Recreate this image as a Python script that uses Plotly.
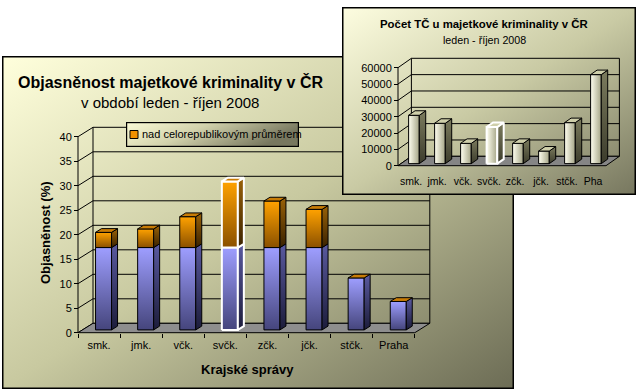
import base64
import plotly.graph_objects as go

W, H = 641, 392
FONT = "Arial, 'Liberation Sans', sans-serif"

# ---- main chart: clearance rate (%) by regional police directorate ----
regions = ["smk.", "jmk.", "včk.", "svčk.", "zčk.", "jčk.", "stčk.", "Praha"]
up_to_avg = [16.8, 16.8, 16.8, 16.8, 16.8, 16.8, 10.6, 5.8]
above_avg = [3.1, 3.8, 6.3, 13.5, 9.5, 7.8, 0.0, 0.0]
main_ticks = [0, 5, 10, 15, 20, 25, 30, 35, 40]

# ---- inset: number of property crimes ----
inset_regions = ["smk.", "jmk.", "včk.", "svčk.", "zčk.", "jčk.", "stčk.", "Pha"]
crimes = [29600, 24700, 12400, 22400, 12400, 7700, 25100, 54500]
inset_ticks = [0, 10000, 20000, 30000, 40000, 50000, 60000]

highlight = 3  # svčk. is drawn with a white outline in both charts


def frame(box, origin, cat_px, unit_px):
    # domain = panel box, ranges chosen so the front axes land on origin
    x0, y0, x1, y1 = box
    ox, oy = origin
    xd = [x0 / W, x1 / W]
    yd = [1 - y1 / H, 1 - y0 / H]
    xr = [-0.5 + (x0 - ox) / cat_px, -0.5 + (x1 - ox) / cat_px]
    yr = [(oy - y1) / unit_px, (oy - y0) / unit_px]
    return xd, xr, yd, yr


def panel_svg(w, h, stops, x2=1, y2=1, border=1.5):
    st = "".join(f'<stop offset="{o}" stop-color="{c}"/>' for o, c in stops)
    s = (f'<svg xmlns="http://www.w3.org/2000/svg" width="{w}" height="{h}" '
         f'viewBox="0 0 {w} {h}" preserveAspectRatio="none"><defs>'
         f'<linearGradient id="g" x1="0" y1="0" x2="{x2}" y2="{y2}">{st}</linearGradient></defs>'
         f'<rect x="{border/2}" y="{border/2}" width="{w-border}" height="{h-border}" '
         f'fill="url(#g)" stroke="black" stroke-width="{border}"/></svg>')
    return "data:image/svg+xml;base64," + base64.b64encode(s.encode()).decode()


traces = []


def poly(xs, ys, ax, fill=None, grad=None, line="black", lw=1):
    t = go.Scatter(x=xs + [xs[0]], y=ys + [ys[0]], mode="lines", fill="toself",
                   line=dict(color=line, width=lw), xaxis="x" + ax, yaxis="y" + ax,
                   hoverinfo="skip", showlegend=False)
    if grad:
        t.fillgradient = dict(type=grad[0], colorscale=[[0, grad[1]], [1, grad[2]]])
    else:
        t.fillcolor = fill
    traces.append(t)


def walls(ax, ticks, ncat, dx, dy, floor):
    xl, xr = -0.5, ncat - 0.5
    top = ticks[-1]
    gx, gy = [], []
    for t in ticks:
        gx += [xl, xl + dx, xr + dx, None]
        gy += [t, t + dy, t + dy, None]
    gx += [xl, xl, None, xl + dx, xl + dx, None, xr + dx, xr + dx]
    gy += [0, top, None, dy, top + dy, None, dy, top + dy]
    traces.append(go.Scatter(x=gx, y=gy, mode="lines", line=dict(color="black", width=1),
                             xaxis="x" + ax, yaxis="y" + ax, hoverinfo="skip", showlegend=False))
    poly([xl, xr, xr + dx, xl + dx], [0, 0, dy, dy], ax, fill=floor)


def prism(ax, c, base, h, width, f0, f1, dx, dy, front, side, top, edge, lw):
    xl = c - width / 2 + f0 * dx
    xr = xl + width
    yb = base + f0 * dy
    yt = yb + h
    ddx, ddy = (f1 - f0) * dx, (f1 - f0) * dy
    if h > 0:
        poly([xl, xr, xr, xl], [yb, yb, yt, yt], ax, grad=front, line=edge, lw=lw)
        poly([xr, xr + ddx, xr + ddx, xr], [yb, yb + ddy, yt + ddy, yt], ax, grad=side, line=edge, lw=lw)
    if top:
        poly([xl, xr, xr + ddx, xl + ddx], [yt, yt, yt + ddy, yt + ddy], ax, fill=top, line=edge, lw=lw)


# ---- main chart geometry ----
M_BOX, M_ORG, M_CAT, M_UNIT = (2, 56, 514, 389), (78, 332.7), 42.1, 4.9
M_DX, M_DY = 15 / M_CAT, 9.4 / M_UNIT
mxd, mxr, myd, myr = frame(M_BOX, M_ORG, M_CAT, M_UNIT)

walls("", main_ticks, len(regions), M_DX, M_DY, "#8e8e8e")
for i in range(len(regions)):
    edge, lw = ("white", 2) if i == highlight else ("black", 1)
    prism("", i, 0, up_to_avg[i], 0.38, 0.3, 0.7, M_DX, M_DY,
          ("vertical", "#45457c", "#9e9eff"), ("vertical", "#1c1c3a", "#5a5aa0"),
          None, edge, lw)
    prism("", i, up_to_avg[i], above_avg[i], 0.38, 0.3, 0.7, M_DX, M_DY,
          ("vertical", "#8a5000", "#ffa200"), ("vertical", "#3a2200", "#9a6208"),
          "#c87c06", edge, lw)

# ---- inset geometry ----
I_BOX, I_ORG, I_CAT, I_UNIT = (342, 7, 636, 195), (398, 165.7), 26.0, 98 / 60000
I_DX, I_DY = 13.4 / I_CAT, 9.4 / I_UNIT
ixd, ixr, iyd, iyr = frame(I_BOX, I_ORG, I_CAT, I_UNIT)

walls("2", inset_ticks, len(inset_regions), I_DX, I_DY, "#858585")
for i in range(len(inset_regions)):
    edge, lw = ("white", 2) if i == highlight else ("black", 1)
    prism("2", i, 0, crimes[i], 0.41, 0.22, 0.7, I_DX, I_DY,
          ("horizontal", "#fffff0", "#a4a486"), ("vertical", "#3c3c2c", "#7c7c5e"),
          "#cfcfaa", edge, lw)

fig = go.Figure(traces)

tickfont = dict(family=FONT, size=11, color="black")
fig.update_layout(
    width=W, height=H, margin=dict(l=0, r=0, t=0, b=0),
    paper_bgcolor="white", plot_bgcolor="rgba(0,0,0,0)",
    hovermode=False, showlegend=False,
    xaxis=dict(domain=mxd, range=mxr, anchor="free", position=1 - M_ORG[1] / H,
               tickmode="array", tickvals=list(range(len(regions))), ticktext=regions,
               ticks="", ticklabelstandoff=4, showgrid=False, zeroline=False, showline=False,
               tickfont=tickfont,
               minor=dict(tickmode="array", tickvals=[i - 0.5 for i in range(len(regions) + 1)],
                          ticks="outside", ticklen=4, tickcolor="black", showgrid=False)),
    yaxis=dict(domain=myd, range=myr, anchor="free", position=M_ORG[0] / W,
               tickmode="array", tickvals=main_ticks, ticks="outside", ticklen=4,
               tickcolor="black", showgrid=False, zeroline=False, showline=False,
               tickfont=tickfont),
    xaxis2=dict(domain=ixd, range=ixr, anchor="free", position=1 - I_ORG[1] / H,
                tickmode="array", tickvals=list(range(len(inset_regions))), ticktext=inset_regions,
                ticks="", ticklabelstandoff=8, showgrid=False, zeroline=False, showline=False,
                tickfont=dict(family=FONT, size=10.5, color="black")),
    yaxis2=dict(domain=iyd, range=iyr, anchor="free", position=I_ORG[0] / W,
                tickmode="array", tickvals=inset_ticks, ticktext=[str(t) for t in inset_ticks],
                ticks="outside", ticklen=4,
                tickcolor="black", showgrid=False, zeroline=False, showline=False,
                tickfont=dict(family=FONT, size=11, color="black")),
)

stops = [(0, "#ffffdc"), (0.5, "#c8c9a0"), (1, "#6c6c55")]
fig.add_layout_image(source=panel_svg(512, 333, stops), xref="x domain", yref="y domain",
                     x=0, y=1, sizex=1, sizey=1, xanchor="left", yanchor="top",
                     sizing="stretch", layer="below")
fig.add_layout_image(source=panel_svg(294, 188, [(0, "#fdfde0"), (0.5, "#c9caa4"), (1, "#77775f")]),
                     xref="x2 domain", yref="y2 domain",
                     x=0, y=1, sizex=1, sizey=1, xanchor="left", yanchor="top",
                     sizing="stretch", layer="below")
# legend box
fig.add_layout_image(source=panel_svg(173, 25, [(0, "#fbfbd6"), (0.45, "#d2d2ac"), (1, "#77775f")],
                                      x2=1, y2=0.3, border=1.2),
                     xref="paper", yref="paper", x=126 / W, y=1 - 122 / H,
                     sizex=173 / W, sizey=25 / H, xanchor="left", yanchor="top",
                     sizing="stretch", layer="above")
fig.add_shape(type="rect", xref="paper", yref="paper", layer="above",
              x0=130 / W, x1=138 / W, y0=1 - 138.5 / H, y1=1 - 130.5 / H,
              fillcolor="#f09000", line=dict(color="black", width=1))


def label(text, px, py, size, bold=False, anchor="center", angle=0):
    fig.add_annotation(text=f"<b>{text}</b>" if bold else text, x=px / W, y=1 - py / H,
                       xref="paper", yref="paper", showarrow=False, xanchor=anchor,
                       yanchor="middle", textangle=angle,
                       font=dict(family=FONT, size=size, color="black"))


label("Objasněnost majetkové kriminality v ČR", 170, 82, 16, bold=True)
label("v období leden - říjen 2008", 170, 102, 15)
label("Objasněnost (%)", 45, 233, 13, bold=True, angle=-90)
label("Krajské správy", 247, 369, 13, bold=True)
label("nad celorepublikovým průměrem", 140, 134.5, 11, anchor="left")
label("Počet TČ u majetkové kriminality v ČR", 484, 24.3, 11.4, bold=True)
label("leden - říjen 2008", 484, 40, 10.7)

fig.write_html("out.html", config={"displayModeBar": False},
               post_script="document.body.style.margin='0px';")
